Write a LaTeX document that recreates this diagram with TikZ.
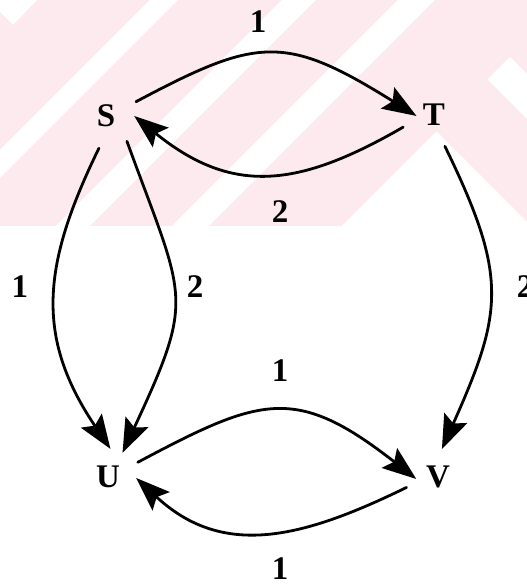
\documentclass[tikz,border=0pt]{standalone}
\usepackage{fontspec}
\setmainfont{Liberation Serif}
\usepackage{tikz}
\usetikzlibrary{arrows.meta}
\definecolor{wmpink}{RGB}{252,234,238}
\tikzset{
  gvertex/.style={circle, minimum size=56pt, inner sep=0pt,
                  font=\fontsize{33}{33}\selectfont\bfseries},
  gweight/.style={inner sep=0pt, font=\fontsize{33}{33}\selectfont\bfseries},
  gdir/.style   ={-{Stealth[length=34pt,width=25pt,inset=6pt]}, line width=2.8pt,
                  line cap=round, shorten <=5pt},
  wmstripe/.style={fill=white},
}
\begin{document}
\begin{tikzpicture}[x=1pt, y=1pt]
  \useasboundingbox (0,0) rectangle (527,584);
  \begin{scope}[shift={(0,584)}, yscale=-1]
    \clip (0,0) rectangle (527,226);
    \fill[wmpink] (0,0) rectangle (527,226);
    \fill[wmstripe] (0,0) -- (37,0) -- (13,25) -- (0,12) -- cycle;
    \fill[wmstripe] (150,0) -- (178,0) -- (-48,226) -- (-76,226) -- cycle;
    \fill[wmstripe] (282,0) -- (316,0) -- (90,226) -- (56,226) -- cycle;
    \fill[wmstripe] (398,0) -- (435,0) -- (209,226) -- (172,226) -- cycle;
    \fill[wmstripe] (436.5,131.5) -- (531,226) -- (342,226) -- cycle;
    \fill[wmstripe] (510,57) -- (600,147) -- (600,192) -- (487.5,79.5) -- cycle;
  \end{scope}

  \node[gvertex] (S) at (106,468) {S};
  \node[gvertex] (T) at (434,469) {T};
  \node[gvertex] (U) at (108,107) {U};
  \node[gvertex] (V) at (438,107) {V};

  \draw[gdir, shorten >=-12pt] (S.25) to[out=28, in=148, looseness=1.33] (T.169);
  \draw[gdir] (T.200) to[out=210, in=-39, looseness=1.18] (S.0);
  \draw[gdir] (S.260) to[out=244, in=124, looseness=1.13] (U.85);
  \draw[gdir] (S.313) to[out=-70, in=65, looseness=1.41] (U.59);
  \draw[gdir] (T.288) to[out=-64, in=66, looseness=1.25] (V.82);
  \draw[gdir, shorten >=-8pt] (U.26) to[out=28, in=142, looseness=1.34] (V.174);
  \draw[gdir] (V.197) to[out=206, in=-43, looseness=1.11] (U.358);

  \node[gweight] (wST)  at (258,562) {1};
  \node[gweight] (wTS)  at (280,372) {2};
  \node[gweight] (wSUa) at (20,297)  {1};
  \node[gweight] (wSUb) at (195,297) {2};
  \node[gweight] (wTV)  at (525,297) {2};
  \node[gweight] (wUV)  at (280,213) {1};
  \node[gweight] (wVU)  at (280,15)  {1};
\end{tikzpicture}
\end{document}
